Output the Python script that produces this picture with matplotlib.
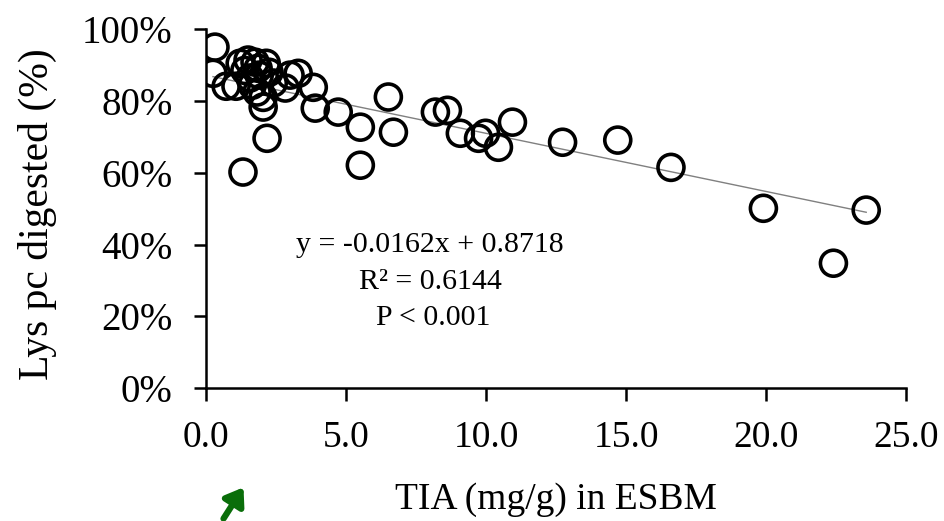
import numpy as np
import matplotlib
matplotlib.use("Agg")
import matplotlib.pyplot as plt
from matplotlib.ticker import PercentFormatter

# TIA (mg/g) in ESBM vs lysine digested
tia = [0.32, 0.25, 0.72, 1.07, 1.22, 1.50, 1.75, 2.15, 2.25, 1.90,
       1.57, 1.82, 2.04, 2.04, 2.18, 1.32, 2.40, 2.83, 3.00, 3.29,
       3.83, 3.90, 4.72, 5.51, 5.51, 6.51, 6.69, 8.19, 8.62, 9.08,
       9.73, 9.98, 10.44, 10.94, 12.73, 14.70, 16.60, 19.90, 23.57, 22.40,
       1.39, 1.86, 1.65]
lys = [0.950, 0.877, 0.841, 0.841, 0.905, 0.914, 0.908, 0.905, 0.880, 0.872,
       0.864, 0.825, 0.810, 0.783, 0.696, 0.602, 0.850, 0.836, 0.872, 0.877,
       0.838, 0.780, 0.769, 0.727, 0.621, 0.811, 0.713, 0.769, 0.774, 0.710,
       0.696, 0.710, 0.671, 0.741, 0.685, 0.691, 0.615, 0.501, 0.496, 0.348,
       0.885, 0.891, 0.844]

slope = -0.0162
intercept = 0.8718
eq_lines = ["y = -0.0162x + 0.8718", "R² = 0.6144", "P < 0.001"]

plt.rcParams['font.family'] = ['Liberation Serif', 'DejaVu Serif']

fig = plt.figure(figsize=(9.45, 5.21), dpi=100)
ax = fig.add_axes([0.218, 0.255, 0.741, 0.689])

# trend line over the data range
xl = np.array([min(tia), max(tia)])
ax.plot(xl, slope * xl + intercept, color="#808080", lw=1.0, zorder=1)

ax.scatter(tia, lys, s=350, facecolors="none", edgecolors="black",
           linewidths=2.6, zorder=2)

ax.set_xlim(0, 25)
ax.set_ylim(0, 1)
ax.set_xticks(np.arange(0, 25.1, 5))
ax.set_xticklabels([f"{v:.1f}" for v in np.arange(0, 25.1, 5)])
ax.set_yticks(np.arange(0, 1.01, 0.2))
ax.yaxis.set_major_formatter(PercentFormatter(1.0, decimals=0))

for s in ["top", "right"]:
    ax.spines[s].set_visible(False)
for s in ["left", "bottom"]:
    ax.spines[s].set_linewidth(1.8)
ax.tick_params(axis="both", width=1.8, length=9, direction="out")
ax.tick_params(axis="x", labelsize=27, pad=14)
ax.tick_params(axis="y", labelsize=28, pad=15)

ax.set_xlabel("TIA (mg/g) in ESBM", fontsize=27, labelpad=20)
ax.set_ylabel("Lys pc digested (%)", fontsize=30, va="center")
ax.yaxis.set_label_coords(-0.241, 0.485)

ax.text(0.32, 0.398, eq_lines[0], transform=ax.transAxes, fontsize=21.5,
        ha="center", va="center")
ax.text(0.32, 0.295, eq_lines[1], transform=ax.transAxes, fontsize=21.5,
        ha="center", va="center")
ax.text(0.325, 0.195, eq_lines[2], transform=ax.transAxes, fontsize=21.5,
        ha="center", va="center")

# small green arrow under the axis
fig.patches.append(matplotlib.patches.FancyArrowPatch(
    (222 / 945, 1 - 521 / 521), (245 / 945, 1 - 485 / 521),
    transform=fig.transFigure, arrowstyle="-|>,head_length=10,head_width=7",
    color="#0a6e0a", lw=4.5))

fig.savefig("out.png", dpi=100)
